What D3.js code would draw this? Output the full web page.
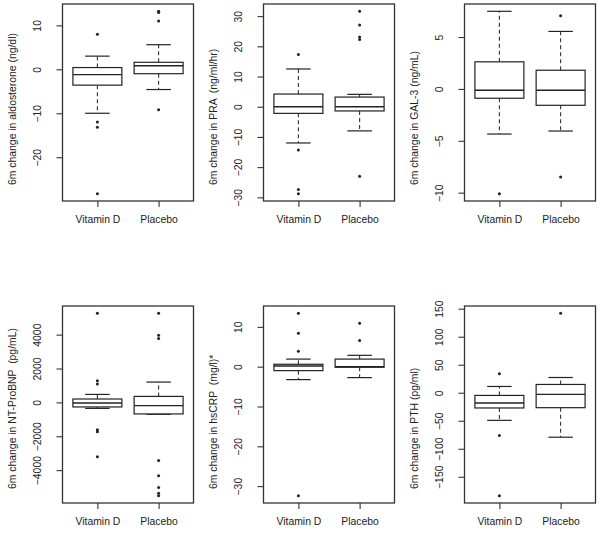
<!DOCTYPE html>
<html>
<head>
<meta charset="utf-8">
<script src="https://cdn.jsdelivr.net/npm/d3@7/dist/d3.min.js"></script>
<style>
  html, body { margin: 0; padding: 0; background: #fff; }
  svg { display: block; }
  text { font-family: "Liberation Sans", Arial, sans-serif; fill: #222; white-space: pre; }
</style>
</head>
<body>
<div id="chart"></div>
<script>
// ---------------- DATA ----------------
const groups = ["Vitamin D", "Placebo"];
const yLabels = [
  "6m change in aldosterone (ng/dl)",
  "6m change in PRA  (ng/ml/hr)",
  "6m change in GAL-3 (ng/mL)",
  "6m change in NT-ProBNP  (pg/mL)",
  "6m change in hsCRP  (mg/l)*",
  "6m change in PTH (pg/ml)"
];
const yTicks = [
  [-20, -10, 0, 10],
  [-30, -20, -10, 0, 10, 20, 30],
  [-10, -5, 0, 5],
  [-4000, -2000, 0, 2000, 4000],
  [-30, -20, -10, 0, 10],
  [-150, -100, -50, 0, 50, 100, 150]
];
// per panel: [Vitamin D, Placebo]
const whiskerLow  = [[-10.0, -4.6], [-12.0, -8.0], [-4.35, -4.06], [-353, -700], [-3.25, -2.75], [-49.3, -79.4]];
const q1          = [[-3.6, -1.0], [-2.2, -1.4], [-0.9, -1.58], [-270, -682], [-1.0, -0.15], [-27.2, -26.7]];
const median      = [[-1.2, 0.8], [0.0, 0.0], [-0.13, -0.13], [-35, -194], [0.17, 0.0], [-18.4, -3.0]];
const q3          = [[0.4, 1.6], [4.2, 3.2], [2.61, 1.8], [200, 353], [0.6, 1.9], [-4.8, 14.8]];
const whiskerHigh = [[3.0, 5.6], [12.5, 4.1], [7.48, 5.54], [470, 1200], [1.9, 2.85], [11.2, 27.2]];
const outliers = [
  [[8.0, -12.0, -13.2, -28.3], [13.2, 12.9, 11.0, -9.2]],
  [[17.3, -14.3, -27.4, -28.8], [31.6, 27.1, 23.1, 22.3, -23.0]],
  [[-10.1], [7.06, -8.48]],
  [[5260, 1276, 1082, -1610, -1740, -3210], [5260, 3965, 3765, -3430, -4330, -5020, -5370, -5510]],
  [[13.4, 8.4, 3.9, -32.4], [10.9, 6.6]],
  [[33.8, -76.5, -183.8], [141.8]]
];

// ---------------- LAYOUT ----------------
const W = 600, H = 533;
const colLeft = [62.5, 263.5, 464.5];
const rowTop = [4, 306];
const pw = 131, ph = 197;
const fontSize = 10.4;

const svg = d3.select("#chart").append("svg")
  .attr("width", W).attr("height", H);

yLabels.forEach((lab, p) => {
  const left = colLeft[p % 3];
  const top = rowTop[Math.floor(p / 3)];
  const g = svg.append("g").attr("transform", `translate(${left},${top})`);

  // y domain with R-style 4% extension
  const allVals = [].concat(whiskerLow[p], whiskerHigh[p], outliers[p][0], outliers[p][1]);
  const lo = d3.min(allVals), hi = d3.max(allVals);
  const ext = (hi - lo) * 0.04;
  const y = d3.scaleLinear().domain([lo - ext, hi + ext]).range([ph, 0]);
  const x = d3.scaleLinear().domain([0.43, 2.57]).range([0, pw]);
  const boxHalf = x(1.4) - x(1);
  const capHalf = boxHalf * 0.5;

  // y axis
  const ya = g.append("g").call(d3.axisLeft(y).tickValues(yTicks[p]).tickSize(6).tickFormat(d3.format("d")));
  ya.select(".domain").remove();
  ya.selectAll(".tick line").attr("stroke", "#333").attr("stroke-width", 1.1);
  ya.selectAll(".tick text")
    .attr("x", null).attr("dy", null)
    .attr("transform", "translate(-21.8,0) rotate(-90)")
    .attr("text-anchor", "middle")
    .style("font-size", fontSize + "px")
    .style("font-family", "Liberation Sans, Arial, sans-serif")
    .attr("fill", "#222");

  // x axis
  const xa = g.append("g").attr("transform", `translate(0,${ph})`)
    .call(d3.axisBottom(x).tickValues([1, 2]).tickSize(6).tickFormat(d => groups[d - 1]));
  xa.select(".domain").remove();
  xa.selectAll(".tick line").attr("stroke", "#333").attr("stroke-width", 1.1);
  xa.selectAll(".tick text")
    .attr("y", 22).attr("dy", null)
    .style("font-size", fontSize + "px")
    .style("font-family", "Liberation Sans, Arial, sans-serif")
    .attr("fill", "#222");

  // frame
  g.append("rect").attr("x", 0).attr("y", 0).attr("width", pw).attr("height", ph)
    .attr("fill", "none").attr("stroke", "#333").attr("stroke-width", 1.3);

  // y label
  g.append("text")
    .attr("transform", `translate(-46.7,${p < 3 ? 181 : 183}) rotate(-90)`)
    .attr("text-anchor", "start")
    .attr("xml:space", "preserve")
    .style("font-size", fontSize + "px")
    .text(lab);

  groups.forEach((gr, i) => {
    const cx = x(i + 1);
    const bg = g.append("g");
    // whiskers (dashed)
    bg.append("line").attr("x1", cx).attr("x2", cx)
      .attr("y1", y(q3[p][i])).attr("y2", y(whiskerHigh[p][i]))
      .attr("stroke", "#333").attr("stroke-width", 1.1).attr("stroke-dasharray", "4,3");
    bg.append("line").attr("x1", cx).attr("x2", cx)
      .attr("y1", y(q1[p][i])).attr("y2", y(whiskerLow[p][i]))
      .attr("stroke", "#333").attr("stroke-width", 1.1).attr("stroke-dasharray", "4,3");
    // caps
    [whiskerLow[p][i], whiskerHigh[p][i]].forEach(v => {
      bg.append("line").attr("x1", cx - capHalf).attr("x2", cx + capHalf)
        .attr("y1", y(v)).attr("y2", y(v))
        .attr("stroke", "#222").attr("stroke-width", 1.2);
    });
    // box
    bg.append("rect")
      .attr("x", cx - boxHalf).attr("width", 2 * boxHalf)
      .attr("y", y(q3[p][i])).attr("height", Math.max(0.5, y(q1[p][i]) - y(q3[p][i])))
      .attr("fill", "#fff").attr("stroke", "#222").attr("stroke-width", 1.2);
    // median
    bg.append("line").attr("x1", cx - boxHalf).attr("x2", cx + boxHalf)
      .attr("y1", y(median[p][i])).attr("y2", y(median[p][i]))
      .attr("stroke", "#222").attr("stroke-width", 1.4);
    // outliers
    bg.selectAll("circle.o").data(outliers[p][i]).enter().append("circle")
      .attr("cx", cx).attr("cy", d => y(d)).attr("r", 1.5)
      .attr("fill", "#222");
  });
});
</script>
</body>
</html>
